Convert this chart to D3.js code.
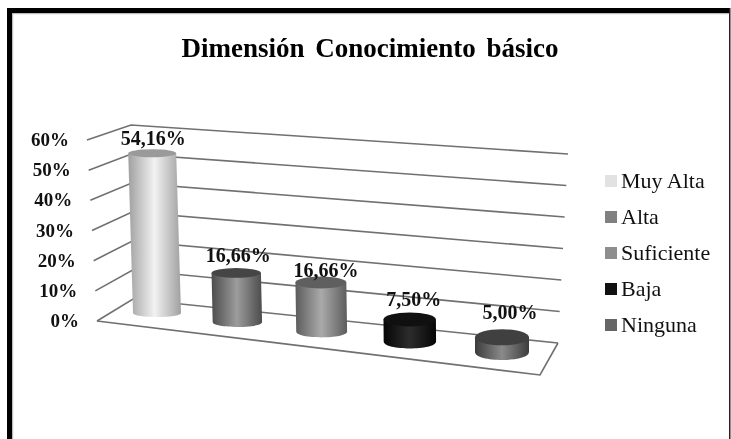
<!DOCTYPE html>
<html><head><meta charset="utf-8">
<script src="https://cdn.jsdelivr.net/npm/d3@7"></script>
<style>html,body{margin:0;padding:0;background:#fff;overflow:hidden}svg{display:block;filter:blur(.45px)}text{font-family:"Liberation Serif",serif}</style>
</head><body><svg id="c" width="731" height="439"></svg>
<script>
const chartTitle = "Dimensión Conocimiento básico";
const categories = ["Muy Alta","Alta","Suficiente","Baja","Ninguna"];
const values = [54.16,16.66,16.66,7.50,5.00];
const valueLabels = ["54,16%","16,66%","16,66%","7,50%","5,00%"];
const ticks = [0,10,20,30,40,50,60];
const swatchColors = ["#e2e2e2","#808080","#8e8e8e","#111111","#666666"];
const topColors = ["#9a9a9a","#454545","#5f5f5f","#101010","#404040"];
const edgeColors = ["#a0a0a0","#4c4c4c","#5c5c5c","#050505","#3c3c3c"];
const midColors = ["#f2f2f2","#9c9c9c","#aaaaaa","#2c2c2c","#8a8a8a"];
const labelGaps = [8,11,5,13,18];
const labelShifts = [1,2,5,4,8];

const svg = d3.select("#c");
// wall & floor corners, as functions of the value
const leftX = d3.scaleLinear([0,60],[97,87]), leftY = d3.scaleLinear([0,60],[321,140]);
const backX = d3.scaleLinear([0,60],[133,131]), backY = d3.scaleLinear([0,60],[299,125]);
const rightX = d3.scaleLinear([0,60],[558,568]), rightY = d3.scaleLinear([0,60],[343,154]);
const frontCorner = [540,375];
const height = d3.scaleLinear([0,60],[0,177]);
// bars stand on a receding floor line
const t = d3.scalePow().exponent(2).domain([20,24]).range([0,1]);
const pos = i => t(i+20);
const baseX = d3.scaleLinear([0,1],[157,502]), baseY = d3.scaleLinear([0,1],[313,352]);
const rx = d3.scaleLinear([0,1],[24,27]), ry = d3.scaleLinear([0,1],[4,8]);

// frame
const frame = svg.append("g");
frame.append("rect").attr("x",7).attr("y",8).attr("width",5).attr("height",431).attr("fill","#000");
frame.append("rect").attr("x",7).attr("y",8).attr("width",722).attr("height",5).attr("fill","#000");
frame.append("rect").attr("x",12).attr("y",13).attr("width",717).attr("height",1.2).attr("fill","#bbb");
frame.append("rect").attr("x",12).attr("y",13).attr("width",1.2).attr("height",426).attr("fill","#bbb");
frame.append("rect").attr("x",729).attr("y",8).attr("width",1.5).attr("height",431).attr("fill","#222");

svg.append("text").attr("x",370).attr("y",57).attr("text-anchor","middle")
  .attr("font-size",27).attr("font-weight","bold").attr("word-spacing",4).attr("fill","#000").text(chartTitle);

// gridlines
const line = d3.line();
const gridG = svg.append("g").attr("fill","none").attr("stroke","#707070").attr("stroke-width",1.6);
ticks.forEach(v=>{
  gridG.append("path").attr("d",line([[leftX(v),leftY(v)],[backX(v),backY(v)],[rightX(v),rightY(v)]]));
});
gridG.append("path").attr("d",line([[leftX(0),leftY(0)],frontCorner,[rightX(0),rightY(0)]]));

svg.append("g").selectAll("text").data(ticks).join("text")
  .attr("x",v=>leftX(v)-18).attr("y",v=>leftY(v)+6).attr("text-anchor","end")
  .attr("font-size",19).attr("font-weight","bold").attr("fill","#111").text(v=>v+"%");

// cylinders
const defs = svg.append("defs");
values.forEach((v,i)=>{
  const g = defs.append("linearGradient").attr("id","g"+i);
  g.append("stop").attr("offset","0%").attr("stop-color",edgeColors[i]);
  g.append("stop").attr("offset","50%").attr("stop-color",midColors[i]);
  g.append("stop").attr("offset","100%").attr("stop-color",edgeColors[i]);
});
const bars = svg.append("g");
values.forEach((v,i)=>{
  const p = pos(i), cx = baseX(p), cy = baseY(p), rX = rx(p), rY = ry(p), h = height(v);
  const tx = cx - h*(1-p)*0.03, ty = cy - h;
  const body = d3.path();
  body.moveTo(tx-rX,ty);
  body.lineTo(cx-rX,cy);
  body.bezierCurveTo(cx-rX,cy+rY*1.33,cx+rX,cy+rY*1.33,cx+rX,cy);
  body.lineTo(tx+rX,ty);
  body.closePath();
  bars.append("path").attr("d",body.toString()).attr("fill",`url(#g${i})`);
  bars.append("ellipse").attr("cx",tx).attr("cy",ty).attr("rx",rX).attr("ry",rY).attr("fill",topColors[i]);
  svg.append("text").attr("x",tx+labelShifts[i]).attr("y",ty-labelGaps[i]).attr("text-anchor","middle")
    .attr("font-size",20).attr("font-weight","bold").attr("fill","#111").text(valueLabels[i]);
});

// legend
const legendY = d3.scalePoint(categories,[181,325]);
const lg = svg.append("g").selectAll("g").data(categories).join("g")
  .attr("transform",d=>`translate(605,${legendY(d)})`);
lg.append("rect").attr("y",-6).attr("width",12).attr("height",12).attr("fill",(d,i)=>swatchColors[i]);
lg.append("text").attr("x",16).attr("y",7).attr("font-size",22).attr("fill","#111").text(d=>d);
</script></body></html>
